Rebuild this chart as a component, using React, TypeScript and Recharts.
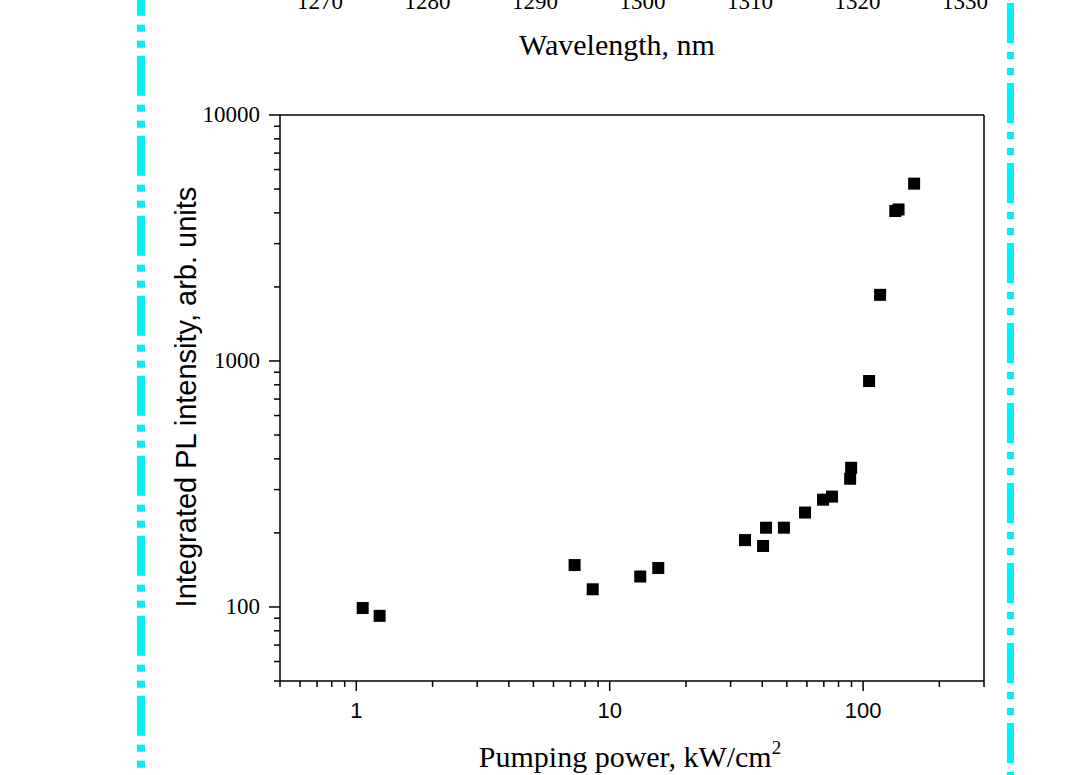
import { ScatterChart, Scatter, XAxis, YAxis, ReferenceLine } from "recharts";

// pumping power, kW/cm^2
const pumpingPower = [
  1.06, 1.236, 7.27, 8.57, 13.2, 15.55, 34.2, 40.3, 41.4, 48.7, 59.0, 69.5,
  75.4, 88.9, 89.7, 105.6, 116.7, 134, 138, 159,
];
// integrated PL intensity, arb. units
const plIntensity = [
  99, 92, 148, 118, 133, 144, 187, 177, 210, 210, 242, 273, 281, 332, 368, 829,
  1857, 4070, 4130, 5260,
];

const xMajor = [1, 10, 100];
const xTicks = [
  0.5, 0.6, 0.7, 0.8, 0.9, 1, 2, 3, 4, 5, 6, 7, 8, 9, 10, 20, 30, 40, 50, 60,
  70, 80, 90, 100, 200, 300,
];
const yMajor = [100, 1000, 10000];
const yTicks = [
  50, 60, 70, 80, 90, 100, 200, 300, 400, 500, 600, 700, 800, 900, 1000, 2000,
  3000, 4000, 5000, 6000, 7000, 8000, 9000, 10000,
];
// upper panel (cut off): only its tick labels are visible
const wavelengthTicks = [1270, 1280, 1290, 1300, 1310, 1320, 1330];

const points = pumpingPower.map((p, i) => ({ x: p, y: plIntensity[i] }));
const wlAnchors = wavelengthTicks.map((w) => ({ x: w, y: 0.5 }));

const SERIF = "'Liberation Serif', 'Times New Roman', serif";
const SANS = "'Liberation Sans', Arial, sans-serif";

const XTick = (props: any) => {
  const { x, y, payload } = props;
  const major = xMajor.includes(payload.value);
  return (
    <g>
      <line x1={x} y1={y} x2={x} y2={y + (major ? 10 : 6)} stroke="#000" strokeWidth={1.5} />
      {major && (
        <text x={x} y={y + 37} textAnchor="middle" fontFamily={SANS} fontSize={22} fill="#000">
          {payload.value}
        </text>
      )}
    </g>
  );
};

const YTick = (props: any) => {
  const { x, y, payload } = props;
  const major = yMajor.includes(payload.value);
  return (
    <g>
      <line x1={x} y1={y} x2={x - (major ? 11 : 6)} y2={y} stroke="#000" strokeWidth={1.5} />
      {major && (
        <text x={x - 20} y={y + 7} textAnchor="end" fontFamily={SERIF} fontSize={23} fill="#000">
          {payload.value}
        </text>
      )}
    </g>
  );
};

const TopTick = (props: any) => {
  const { x, y, payload } = props;
  return (
    <text x={x} y={y + 19} textAnchor="middle" fontFamily={SERIF} fontSize={23} fill="#000">
      {payload.value}
    </text>
  );
};

const SquareDot = (props: any) => {
  const { cx, cy } = props;
  return <rect x={cx - 6} y={cy - 6} width={12} height={12} fill="#000" />;
};

export default function App() {
  return (
    <div
      style={{
        position: "absolute",
        left: 0,
        top: 0,
        width: 1076,
        height: 775,
        overflow: "hidden",
        background: "#fff",
      }}
    >
      {/* cut-off wavelength axis of the upper panel */}
      <div style={{ position: "absolute", left: 0, top: -40 }}>
        <ScatterChart width={1076} height={60} margin={{ top: 0, right: 111, bottom: 0, left: 320 }}>
          <XAxis
            type="number"
            dataKey="x"
            domain={[1270, 1330]}
            ticks={wavelengthTicks}
            height={30}
            axisLine={false}
            tickLine={false}
            tickSize={0}
            tickMargin={0}
            tick={<TopTick />}
            interval={0}
          />
          <YAxis hide type="number" dataKey="y" domain={[0, 1]} />
          <Scatter data={wlAnchors} shape={() => <g />} isAnimationActive={false} />
        </ScatterChart>
      </div>

      <div style={{ position: "absolute", left: 0, top: 0 }}>
        <ScatterChart width={1076} height={775} margin={{ top: 115, right: 92, bottom: 0, left: 0 }}>
          <XAxis
            type="number"
            dataKey="x"
            scale="log"
            domain={[0.5, 300]}
            allowDataOverflow
            ticks={xTicks}
            interval={0}
            height={94}
            axisLine={{ stroke: "#000", strokeWidth: 1.5 }}
            tickLine={false}
            tickSize={0}
            tickMargin={0}
            tick={<XTick />}
          />
          <YAxis
            type="number"
            dataKey="y"
            scale="log"
            domain={[50, 10000]}
            allowDataOverflow
            ticks={yTicks}
            interval={0}
            width={280}
            axisLine={{ stroke: "#000", strokeWidth: 1.5 }}
            tickLine={false}
            tickSize={0}
            tickMargin={0}
            tick={<YTick />}
          />
          <ReferenceLine y={10000} stroke="#000" strokeWidth={1.5} />
          <ReferenceLine x={300} stroke="#000" strokeWidth={1.5} />
          <Scatter data={points} shape={<SquareDot />} isAnimationActive={false} />
        </ScatterChart>
      </div>

      <svg
        width={1076}
        height={775}
        style={{ position: "absolute", left: 0, top: 0, pointerEvents: "none" }}
      >
        <line
          x1={141}
          y1={0}
          x2={141}
          y2={775}
          stroke="#00f0f8"
          strokeWidth={8}
          strokeDasharray="40 9 7 9 7 8"
          strokeDashoffset={24.3}
        />
        <line
          x1={1010.5}
          y1={0}
          x2={1010.5}
          y2={775}
          stroke="#00f0f8"
          strokeWidth={7}
          strokeDasharray="40 9 7 9 7 8"
          strokeDashoffset={77}
        />
        <text x={617} y={55} textAnchor="middle" fontFamily={SERIF} fontSize={30} fill="#000">
          Wavelength, nm
        </text>
        <text
          x={196}
          y={397}
          transform="rotate(-90 196 397)"
          textAnchor="middle"
          fontFamily={SANS}
          fontSize={29}
          fill="#000"
        >
          Integrated PL intensity, arb. units
        </text>
        <text x={630} y={767} textAnchor="middle" fontFamily={SERIF} fontSize={30} fill="#000">
          Pumping power, kW/cm
          <tspan fontSize={19} dy={-13}>
            2
          </tspan>
        </text>
      </svg>
    </div>
  );
}
